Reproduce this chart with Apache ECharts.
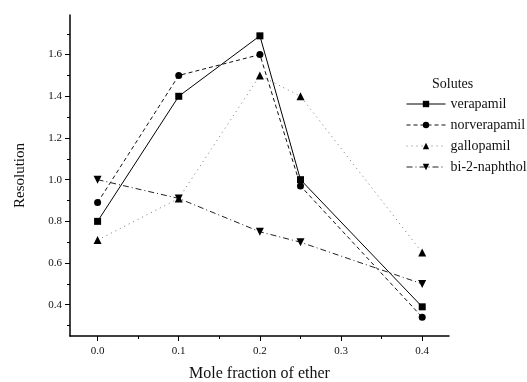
<!DOCTYPE html>
<html>
<head>
<meta charset="utf-8">
<script src="https://cdn.jsdelivr.net/npm/echarts@6/dist/echarts.min.js"></script>
<style>
html, body { margin: 0; padding: 0; background: #fff; }
#chart { width: 527px; height: 382px; }
</style>
</head>
<body>
<div id="chart"></div>
<script>
var chart = echarts.init(document.getElementById('chart'));

// mole fraction of ether
var fractions = [0.0, 0.1, 0.2, 0.25, 0.4];
var verapamil = [0.80, 1.40, 1.69, 1.00, 0.39];
var norverapamil = [0.89, 1.50, 1.60, 0.97, 0.34];
var gallopamil = [0.71, 0.91, 1.50, 1.40, 0.65];
var binaphthol = [1.00, 0.91, 0.75, 0.70, 0.50];

var xTicks = [0.0, 0.1, 0.2, 0.3, 0.4];
var xMinor = [0.05, 0.15, 0.25, 0.35];
var yTicks = [0.4, 0.6, 0.8, 1.0, 1.2, 1.4, 1.6];
var yMinor = [0.3, 0.5, 0.7, 0.9, 1.1, 1.3, 1.5, 1.7];

var font = '"Liberation Serif", "DejaVu Serif", serif';

function pairs(arr) {
	return fractions.map(function(x, i) { return [x, arr[i]]; });
}

var gridBox = { left: 70, right: 78, top: 15, bottom: 46, outerBoundsMode: 'none', containLabel: false };

var option = {
	backgroundColor: '#fff',
	animation: false,
	title: {
		text: 'Solutes',
		left: 427,
		top: 72,
		textStyle: { fontFamily: font, fontSize: 14, fontWeight: 'normal', color: '#111' }
	},
	legend: {
		orient: 'vertical',
		left: 401,
		top: 92,
		itemWidth: 39,
		itemHeight: 8,
		itemGap: 7,
		lineStyle: { width: 1 },
		textStyle: { fontFamily: font, fontSize: 14, color: '#111' },
		data: ['verapamil', 'norverapamil', 'gallopamil', 'bi-2-naphthol']
	},
	grid: [
		Object.assign({}, gridBox),
		Object.assign({}, gridBox)
	],
	xAxis: [{
		type: 'value',
		min: -0.034,
		max: 0.433,
		name: 'Mole fraction of ether',
		nameLocation: 'middle',
		nameGap: 30,
		nameTextStyle: { fontFamily: font, fontSize: 16, color: '#111' },
		axisLine: { onZero: false, lineStyle: { color: '#000', width: 1.5 } },
		axisTick: { customValues: xTicks, length: 5, lineStyle: { color: '#000' } },
		axisLabel: {
			customValues: xTicks,
			fontFamily: font, fontSize: 11, color: '#111', margin: 10,
			formatter: function(v) { return v.toFixed(1); }
		},
		splitLine: { show: false }
	}, {
		type: 'value',
		gridIndex: 1,
		position: 'bottom',
		min: -0.034,
		max: 0.433,
		axisLine: { show: false, onZero: false },
		axisTick: { customValues: xMinor, length: 3, lineStyle: { color: '#000' } },
		axisLabel: { show: false },
		splitLine: { show: false }
	}],
	yAxis: [{
		type: 'value',
		min: 0.25,
		max: 1.79,
		name: 'Resolution',
		nameLocation: 'middle',
		nameGap: 42,
		nameTextStyle: { fontFamily: font, fontSize: 15, color: '#111' },
		axisLine: { show: true, onZero: false, lineStyle: { color: '#000', width: 1.5 } },
		axisTick: { show: true, customValues: yTicks, length: 5, lineStyle: { color: '#000' } },
		axisLabel: {
			customValues: yTicks,
			fontFamily: font, fontSize: 11, color: '#111', margin: 8,
			formatter: function(v) { return v.toFixed(1); }
		},
		splitLine: { show: false }
	}, {
		type: 'value',
		gridIndex: 1,
		position: 'left',
		min: 0.25,
		max: 1.79,
		axisLine: { show: false, onZero: false },
		axisTick: { show: true, customValues: yMinor, length: 3, lineStyle: { color: '#000' } },
		axisLabel: { show: false },
		splitLine: { show: false }
	}],
	series: [{
		name: 'verapamil',
		type: 'line',
		data: pairs(verapamil),
		symbol: 'rect',
		symbolSize: 7,
		itemStyle: { color: '#000' },
		lineStyle: { color: '#000', width: 1 }
	}, {
		name: 'norverapamil',
		type: 'line',
		data: pairs(norverapamil),
		symbol: 'circle',
		symbolSize: 7,
		itemStyle: { color: '#000' },
		lineStyle: { color: '#111', width: 1, type: [4, 3] }
	}, {
		name: 'gallopamil',
		type: 'line',
		data: pairs(gallopamil),
		symbol: 'triangle',
		symbolSize: 8,
		itemStyle: { color: '#000' },
		lineStyle: { color: '#777', width: 1, type: [1, 4] }
	}, {
		name: 'bi-2-naphthol',
		type: 'line',
		data: pairs(binaphthol),
		symbol: 'triangle',
		symbolRotate: 180,
		symbolSize: 8,
		itemStyle: { color: '#000' },
		lineStyle: { color: '#222', width: 1, type: [6, 3, 1, 3] }
	}]
};

chart.setOption(option);
</script>
</body>
</html>
